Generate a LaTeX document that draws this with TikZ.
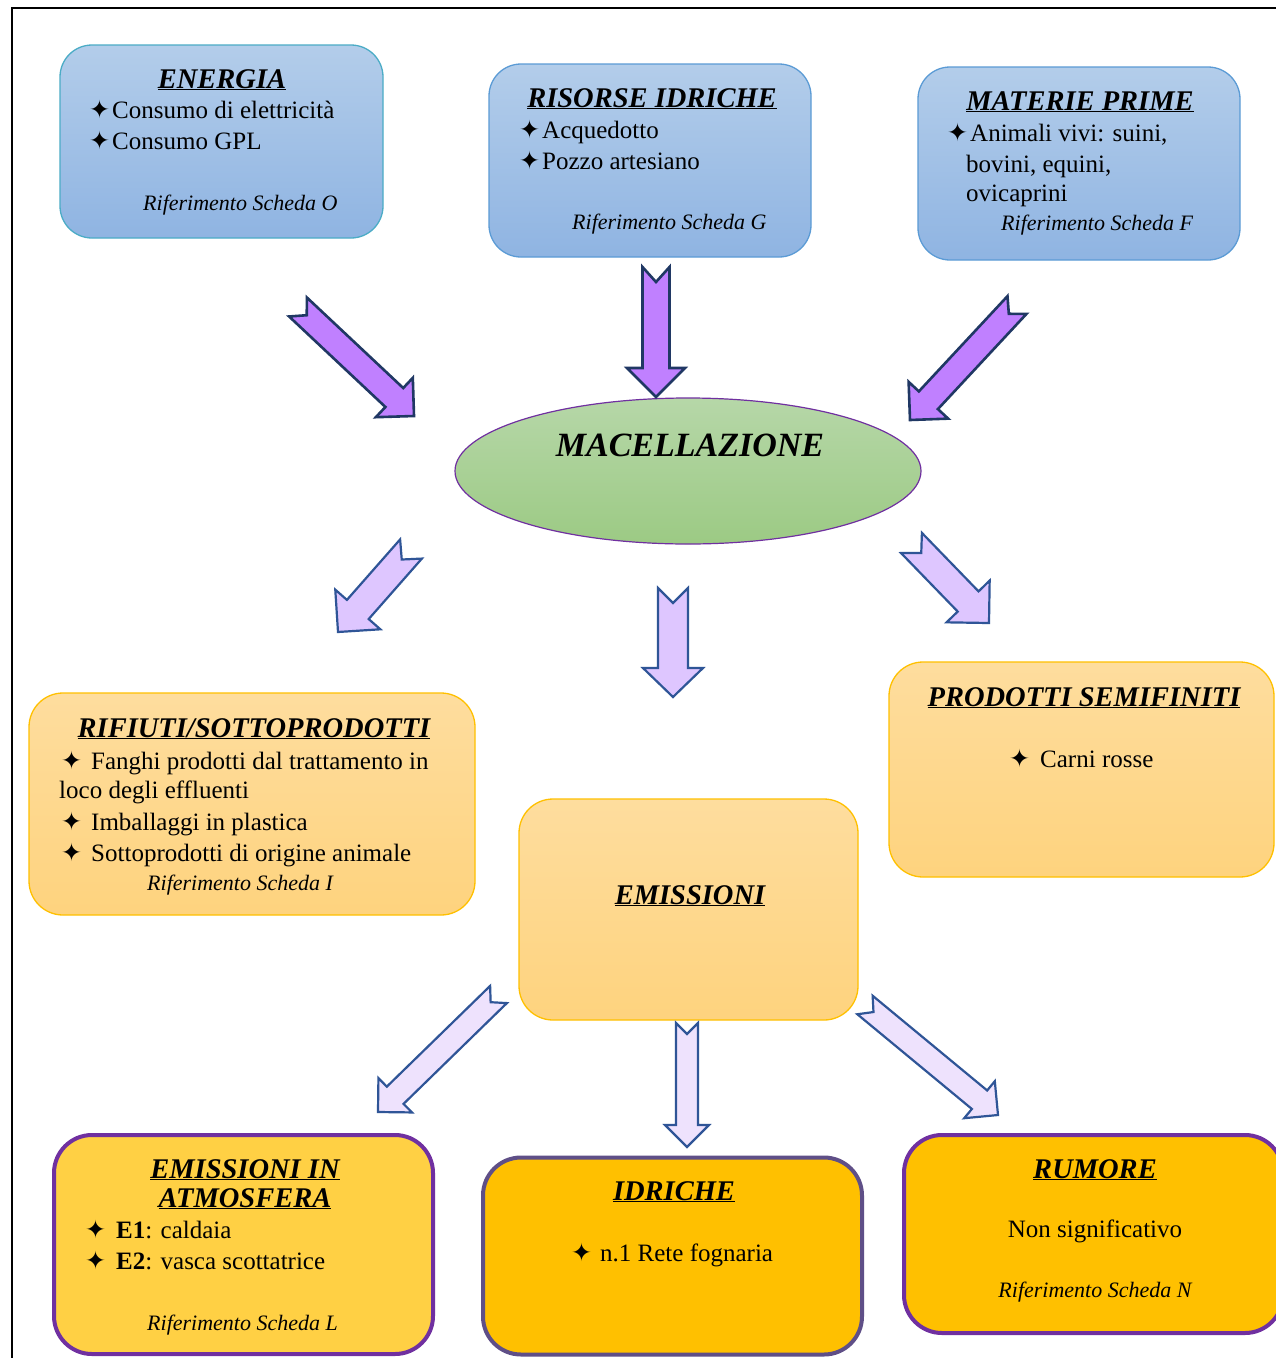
\documentclass[tikz,border=0pt]{standalone}
\usepackage{fontspec}
\setmainfont{Liberation Serif}
\newfontfamily\symf{DejaVu Sans}
\usetikzlibrary{calc,shapes.geometric}

\definecolor{bluetop}{HTML}{B3CDEA}
\definecolor{bluebot}{HTML}{8FB4E2}
\definecolor{tealbd}{HTML}{4BACC6}
\definecolor{bluebd}{HTML}{5B9BD5}
\definecolor{greentop}{HTML}{B6D7A8}
\definecolor{greenbot}{HTML}{9CCA84}
\definecolor{purplebd}{HTML}{7030A0}
\definecolor{oratop}{HTML}{FEDD9E}
\definecolor{orabot}{HTML}{FED37E}
\definecolor{orabd}{HTML}{FFC000}
\definecolor{gold}{HTML}{FFC000}
\definecolor{goldlight}{HTML}{FFD044}
\definecolor{greypurple}{HTML}{5F4F87}
\definecolor{arrdark}{HTML}{C080FF}
\definecolor{arrdarkbd}{HTML}{203864}
\definecolor{arrmid}{HTML}{DEC6FF}
\definecolor{arrlight}{HTML}{EEE2FD}
\definecolor{arrbd}{HTML}{2F5597}

\newcommand\bul[1]{\makebox[#1][l]{\symf\fontsize{25}{25}\selectfont ✦}}

% notched block arrow: [style]{tail}{tip}{shaft half width}{head half width}{head length}{notch depth}
\newcommand\blockarrow[7][]{%
  \coordinate (hbase) at ($(#3)!#6!(#2)$);
  \path[#1] ($(#2)!#4!90:(#3)$) -- ($(#2)!#7!(#3)$) -- ($(#2)!#4!-90:(#3)$)
    -- ($(hbase)!#4!90:(#2)$) -- ($(hbase)!#5!90:(#2)$) -- (#3)
    -- ($(hbase)!#5!-90:(#2)$) -- ($(hbase)!#4!-90:(#2)$) -- cycle;}

\tikzset{
  bluebox/.style={draw=bluebd, line width=1.3pt, rounded corners=32pt, top color=bluetop, bottom color=bluebot, inner sep=0pt},
  orabox/.style={draw=orabd, line width=1.3pt, rounded corners=34pt, top color=oratop, bottom color=orabot, inner sep=0pt},
  goldbox/.style={draw=purplebd, line width=4pt, rounded corners=38pt, fill=gold, inner sep=0pt},
  txt/.style={inner sep=0pt, anchor=base west, font=\fontsize{25}{31}\selectfont},
  ctxt/.style={inner sep=0pt, anchor=base, font=\fontsize{25}{31}\selectfont},
  ttl/.style={inner sep=0pt, anchor=base, font=\fontsize{28.5}{30}\selectfont\bfseries\itshape},
  rif/.style={inner sep=0pt, anchor=base west, font=\fontsize{22}{28}\selectfont\itshape},
  darkarrow/.style={fill=arrdark, draw=arrdarkbd, line width=2.6pt, line join=miter},
  midarrow/.style={fill=arrmid, draw=arrbd, line width=2.2pt, line join=miter},
  lightarrow/.style={fill=arrlight, draw=arrbd, line width=2.2pt, line join=miter},
}

\begin{document}
\begin{tikzpicture}[x=1pt,y=-1pt]
\useasboundingbox (0,0) rectangle (1276,1358);
\clip (0,0) rectangle (1276,1358);
\fill[white] (0,0) rectangle (1276,1358);

% page frame
\draw[line width=2pt] (12,1370) -- (12,8) -- (1290,8);

% ---------- input boxes ----------
\node[bluebox, draw=tealbd, minimum width=323, minimum height=193] (energia) at (221.5,141.5) {};
\node[ttl] (energia-t) at (222,88) {\underline{ENERGIA}};
\node[txt] (energia-l1) at (89,118) {\bul{23pt}Consumo di elettricità};
\node[txt] (energia-l2) at (89,149) {\bul{23pt}Consumo GPL};
\node[rif] (energia-r) at (143,210) {Riferimento Scheda O};

\node[bluebox, minimum width=322, minimum height=193] (risorse) at (650,160.5) {};
\node[ttl] (risorse-t) at (652,107) {\underline{RISORSE IDRICHE}};
\node[txt] (risorse-l1) at (519,138) {\bul{23pt}Acquedotto};
\node[txt] (risorse-l2) at (519,169) {\bul{23pt}Pozzo artesiano};
\node[rif] (risorse-r) at (572,229) {Riferimento Scheda G};

\node[bluebox, minimum width=322, minimum height=193] (materie) at (1079,163.5) {};
\node[ttl] (materie-t) at (1080,110) {\underline{MATERIE PRIME}};
\node[txt] (materie-l1) at (947,141) {\bul{23pt}Animali vivi: suini,};
\node[txt] (materie-l2) at (966,172) {bovini, equini,};
\node[txt] (materie-l3) at (966,201) {ovicaprini};
\node[rif] (materie-r) at (1001,230) {Riferimento Scheda F};

% ---------- central ellipse ----------
\node[ellipse, draw=purplebd, line width=1.2pt, top color=greentop, bottom color=greenbot,
      minimum width=466, minimum height=146, inner sep=0pt] (mac) at (688,471) {};
\node[inner sep=0pt, anchor=base, font=\fontsize{34}{36}\selectfont\bfseries\itshape] (mac-t) at (690,456) {MACELLAZIONE};

% ---------- output boxes ----------
\node[orabox, minimum width=446, minimum height=222] (rifiuti) at (252,804) {};
\node[ttl] (rifiuti-t) at (254,737) {\underline{RIFIUTI/SOTTOPRODOTTI}};
\node[txt] (rifiuti-l1) at (61,769) {\bul{30pt}Fanghi prodotti dal trattamento in};
\node[txt] (rifiuti-l2) at (59,798) {loco degli effluenti};
\node[txt] (rifiuti-l3) at (61,830) {\bul{30pt}Imballaggi in plastica};
\node[txt] (rifiuti-l4) at (61,861) {\bul{30pt}Sottoprodotti di origine animale};
\node[rif] (rifiuti-r) at (147,890) {Riferimento Scheda I};

\node[orabox, minimum width=385, minimum height=215] (prodotti) at (1081.5,769.5) {};
\node[ttl] (prodotti-t) at (1084,706) {\underline{PRODOTTI SEMIFINITI}};
\node[txt] (prodotti-l1) at (1009,767) {\bul{31pt}Carni rosse};

\node[orabox, minimum width=339, minimum height=221] (emissioni) at (688.5,909.5) {};
\node[ttl] (emissioni-t) at (690,904) {\underline{EMISSIONI}};

% ---------- emission boxes ----------
\node[goldbox, fill=goldlight, minimum width=379, minimum height=219] (atmo) at (243.5,1244.5) {};
\node[ttl] (atmo-t1) at (245,1178) {\underline{EMISSIONI IN}};
\node[ttl] (atmo-t2) at (245,1207) {\underline{ATMOSFERA}};
\node[txt] (atmo-l1) at (85,1238) {\bul{31pt}\textbf{E1}: caldaia};
\node[txt] (atmo-l2) at (85,1269) {\bul{31pt}\textbf{E2}: vasca scottatrice};
\node[rif] (atmo-r) at (147,1330) {Riferimento Scheda L};

\node[goldbox, draw=greypurple, minimum width=379, minimum height=197] (idriche) at (672.5,1256) {};
\node[ttl] (idriche-t) at (674,1200) {\underline{IDRICHE}};
\node[txt] (idriche-l1) at (571,1261) {\bul{29pt}n.1 Rete fognaria};

\node[goldbox, minimum width=379, minimum height=198] (rumore) at (1093.5,1234) {};
\node[ttl] (rumore-t) at (1095,1178) {\underline{RUMORE}};
\node[ctxt] (rumore-l1) at (1095,1237) {Non significativo};
\node[inner sep=0pt, anchor=base, font=\fontsize{22}{28}\selectfont\itshape] (rumore-r) at (1095,1297) {Riferimento Scheda N};

% ---------- arrows ----------
\coordinate (a1-tail) at (298,307);  \coordinate (a1-tip) at (414,416);
\coordinate (a2-tail) at (656,267);  \coordinate (a2-tip) at (656,397);
\coordinate (a3-tail) at (1017,305); \coordinate (a3-tip) at (910,420);
\coordinate (a4-tail) at (411,549);  \coordinate (a4-tip) at (338,632);
\coordinate (a5-tail) at (673,588);  \coordinate (a5-tip) at (673,697);
\coordinate (a6-tail) at (911.5,543);\coordinate (a6-tip) at (989,623);
\coordinate (a7-tail) at (498.5,994.5); \coordinate (a7-tip) at (378,1112);
\coordinate (a8-tail) at (687,1023); \coordinate (a8-tip) at (687,1147);
\coordinate (a9-tail) at (865,1005); \coordinate (a9-tip) at (998,1115);

\blockarrow[darkarrow]{a1-tail}{a1-tip}{13pt}{27pt}{27pt}{12pt}
\blockarrow[darkarrow]{a2-tail}{a2-tip}{13.5pt}{29pt}{29pt}{15pt}
\blockarrow[darkarrow]{a3-tail}{a3-tip}{13pt}{27pt}{27pt}{12pt}
\blockarrow[midarrow]{a4-tail}{a4-tip}{14.5pt}{30pt}{30pt}{14pt}
\blockarrow[midarrow]{a5-tail}{a5-tip}{15pt}{30pt}{29pt}{15pt}
\blockarrow[midarrow]{a6-tail}{a6-tip}{14.5pt}{30pt}{30pt}{14pt}
\blockarrow[lightarrow]{a7-tail}{a7-tip}{12pt}{24pt}{24pt}{11pt}
\blockarrow[lightarrow]{a8-tail}{a8-tip}{11pt}{22pt}{22pt}{11pt}
\blockarrow[lightarrow]{a9-tail}{a9-tip}{12pt}{24pt}{24pt}{11pt}
\end{tikzpicture}
\end{document}
